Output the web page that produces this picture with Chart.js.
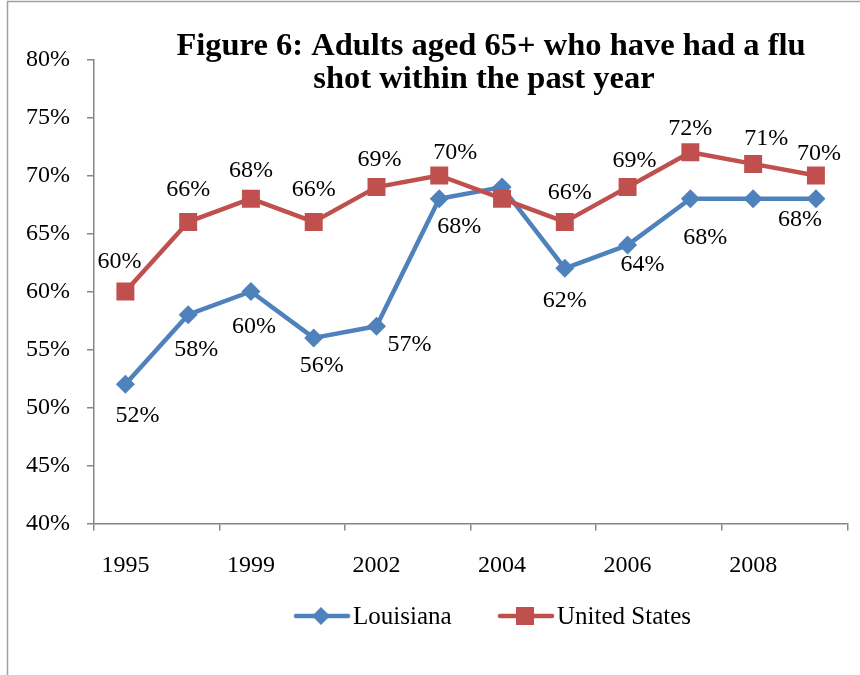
<!DOCTYPE html>
<html>
<head>
<meta charset="utf-8">
<script src="https://cdn.jsdelivr.net/npm/chart.js@4.4.1/dist/chart.umd.min.js"></script>
<style>
  html, body { margin: 0; padding: 0; background: #fff; }
  #wrap { width: 860px; height: 675px; position: relative; }
</style>
</head>
<body>
<div id="wrap"><canvas id="chart" width="860" height="675"></canvas></div>
<script>
// Survey years and the share of adults 65+ vaccinated against flu (%)
const years = ['1995', '1997', '1999', '2001', '2002', '2003', '2004', '2005', '2006', '2007', '2008', '2009'];
const shownYears = ['1995', '1999', '2002', '2004', '2006', '2008'];
const louisiana = [52, 58, 60, 56, 57, 68, 69, 62, 64, 68, 68, 68];
const unitedStates = [60, 66, 68, 66, 69, 70, 68, 66, 69, 72, 71, 70];
const yTicks = [40, 45, 50, 55, 60, 65, 70, 75, 80];

// Where each value label sits relative to its point (null = no label)
const louisianaLabelShift = [[12, 31], [8, 35], [3, 35], [8, 28], [33, 18], [20, 28], null, [0, 32], [15, 20], [15, 39], null, [-16, 21]];
const unitedStatesLabelShift = [[-6, -30], [0, -32], [0, -28], [0, -32], [3, -27], [16, -23], null, [5, -29], [7, -26], [0, -24], [13, -25], [3, -22]];

const BLUE = '#4F81BD';
const RED = '#C0504D';
const AXIS = '#868686';
const SERIF = "'Liberation Serif', 'Times New Roman', serif";

const frame = {
  id: 'frame',
  beforeDraw(chart) {
    const ctx = chart.ctx;
    ctx.save();
    ctx.fillStyle = '#fff';
    ctx.fillRect(0, 0, chart.width, chart.height);
    ctx.strokeStyle = '#a0a0a0';
    ctx.lineWidth = 1.5;
    ctx.beginPath();
    ctx.moveTo(7.5, chart.height); ctx.lineTo(7.5, 1.5); ctx.lineTo(chart.width, 1.5);
    ctx.stroke();
    ctx.restore();
  }
};

const heading = {
  id: 'heading',
  afterDraw(chart) {
    const ctx = chart.ctx;
    ctx.save();
    ctx.fillStyle = '#000';
    ctx.font = 'bold 32.5px ' + SERIF;
    ctx.textAlign = 'center';
    ctx.textBaseline = 'alphabetic';
    ctx.fillText('Figure 6: Adults aged 65+ who have had a flu', 491, 55);
    ctx.fillText('shot within the past year', 484, 88);
    ctx.restore();
  }
};

const valueLabels = {
  id: 'valueLabels',
  afterDatasetsDraw(chart) {
    const ctx = chart.ctx;
    const shifts = [louisianaLabelShift, unitedStatesLabelShift];
    ctx.save();
    ctx.font = '24px ' + SERIF;
    ctx.fillStyle = '#000';
    ctx.textAlign = 'center';
    ctx.textBaseline = 'middle';
    chart.data.datasets.forEach((ds, di) => {
      const meta = chart.getDatasetMeta(di);
      meta.data.forEach((pt, i) => {
        const s = shifts[di][i];
        if (!s) return;
        ctx.fillText(ds.data[i] + '%', pt.x + s[0], pt.y + s[1]);
      });
    });
    ctx.restore();
  }
};

// Series key under the plot: a short line with the series marker, then the name
const seriesKey = {
  id: 'seriesKey',
  afterDraw(chart) {
    const ctx = chart.ctx;
    const items = [
      { x: 294, marker: 'diamond' },
      { x: 498, marker: 'square' }
    ];
    const cy = 616;
    ctx.save();
    ctx.font = '25px ' + SERIF;
    ctx.textBaseline = 'middle';
    ctx.textAlign = 'left';
    chart.data.datasets.forEach((ds, i) => {
      const it = items[i];
      const color = ds.borderColor;
      ctx.strokeStyle = color; ctx.fillStyle = color;
      ctx.lineWidth = 4.5; ctx.lineCap = 'round';
      ctx.beginPath(); ctx.moveTo(it.x + 2, cy); ctx.lineTo(it.x + 54, cy); ctx.stroke();
      const mx = it.x + 27;
      ctx.beginPath();
      if (it.marker === 'diamond') {
        ctx.moveTo(mx, cy - 9); ctx.lineTo(mx + 9, cy); ctx.lineTo(mx, cy + 9); ctx.lineTo(mx - 9, cy); ctx.closePath();
      } else {
        ctx.rect(mx - 9, cy - 9, 18, 18);
      }
      ctx.fill();
      ctx.fillStyle = '#000';
      ctx.fillText(ds.label, it.x + 59, cy + 1);
    });
    ctx.restore();
  }
};

new Chart(document.getElementById('chart'), {
  type: 'line',
  data: {
    labels: years,
    datasets: [
      {
        label: 'Louisiana',
        data: louisiana,
        borderColor: BLUE,
        backgroundColor: BLUE,
        borderWidth: 4.5,
        borderJoinStyle: 'round',
        borderCapStyle: 'round',
        pointStyle: 'rectRot',
        pointRadius: 9.5,
        pointHoverRadius: 9.5,
        pointBorderWidth: 0,
        order: 1
      },
      {
        label: 'United States',
        data: unitedStates,
        borderColor: RED,
        backgroundColor: RED,
        borderWidth: 4.5,
        borderJoinStyle: 'round',
        borderCapStyle: 'round',
        pointStyle: 'rect',
        pointRadius: 12.7,
        pointHoverRadius: 12.7,
        pointBorderWidth: 0,
        order: 0
      }
    ]
  },
  options: {
    responsive: false,
    animation: false,
    devicePixelRatio: 1,
    layout: { padding: { left: 10, right: 12, top: 59.5, bottom: 81.5 } },
    plugins: {
      title: { display: false },
      tooltip: { enabled: false },
      legend: { display: false }
    },
    scales: {
      x: {
        offset: true,
        grid: {
          offset: true,
          drawOnChartArea: false,
          tickLength: 7,
          lineWidth: 1.5,
          color: c => (c.index === undefined || shownYears.includes(years[c.index])) ? AXIS : 'rgba(0,0,0,0)'
        },
        border: { color: AXIS, width: 1.5 },
        ticks: {
          autoSkip: false,
          maxRotation: 0,
          padding: 21,
          color: '#000',
          font: { family: SERIF, size: 24 },
          callback: (v, i) => shownYears.includes(years[i]) ? years[i] : ''
        },
        afterFit: s => { s.height = 70; }
      },
      y: {
        min: 40,
        max: 80,
        afterBuildTicks: s => { s.ticks = yTicks.map(v => ({ value: v })); },
        grid: { drawOnChartArea: false, tickLength: 7, lineWidth: 1.5, color: AXIS },
        border: { color: AXIS, width: 1.5 },
        ticks: {
          padding: 17,
          color: '#000',
          font: { family: SERIF, size: 24 },
          callback: v => v + '%'
        },
        afterFit: s => { s.width = 84; }
      }
    }
  },
  plugins: [frame, heading, valueLabels, seriesKey]
});
</script>
</body>
</html>
